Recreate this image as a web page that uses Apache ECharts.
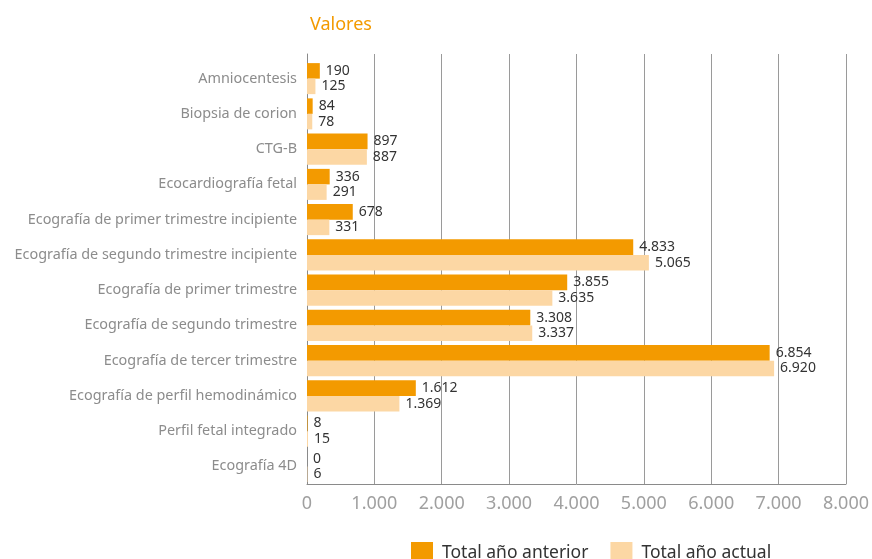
<!DOCTYPE html>
<html>
<head>
<meta charset="utf-8">
<script src="https://cdn.jsdelivr.net/npm/echarts@6/dist/echarts.min.js"></script>
<style>
  html, body { margin: 0; padding: 0; background: #fff; }
  #chart { width: 872px; height: 559px; }
</style>
</head>
<body>
<div id="chart"></div>
<script>
// Estudios de diagnóstico prenatal: totales por prueba
const categories = [
  'Amniocentesis',
  'Biopsia de corion',
  'CTG-B',
  'Ecocardiografía fetal',
  'Ecografía de primer trimestre incipiente',
  'Ecografía de segundo trimestre incipiente',
  'Ecografía de primer trimestre',
  'Ecografía de segundo trimestre',
  'Ecografía de tercer trimestre',
  'Ecografía de perfil hemodinámico',
  'Perfil fetal integrado',
  'Ecografía 4D'
];
const totalAnoAnterior = [190, 84, 897, 336, 678, 4833, 3855, 3308, 6854, 1612, 8, 0];
const totalAnoActual   = [125, 78, 887, 291, 331, 5065, 3635, 3337, 6920, 1369, 15, 6];
const seriesNames = ['Total año anterior', 'Total año actual'];
const xTicks = [0, 1000, 2000, 3000, 4000, 5000, 6000, 7000, 8000];

const ORANGE = '#F39A00';
const LIGHT = '#FCD7A4';
const FONT = '"Noto Sans", "Open Sans", sans-serif';

const fmt = v => String(v).replace(/\B(?=(\d{3})+(?!\d))/g, '.');

const chart = echarts.init(document.getElementById('chart'), null, { renderer: 'canvas' });

const valueLabel = {
  show: true,
  position: 'right',
  distance: 6,
  color: '#333',
  fontFamily: FONT,
  fontSize: 14,
  formatter: p => fmt(p.value)
};

chart.setOption({
  animation: false,
  textStyle: { fontFamily: FONT },
  title: {
    text: 'Valores',
    left: 305,
    top: 11,
    textStyle: { color: ORANGE, fontSize: 18, fontWeight: 'normal', fontFamily: FONT }
  },
  legend: {
    top: 537,
    left: 406,
    itemWidth: 22,
    itemHeight: 22,
    itemGap: 22,
    icon: 'rect',
    textStyle: { color: '#333', fontSize: 17.5, fontFamily: FONT, padding: [0, 0, 0, 4] },
    data: seriesNames
  },
  grid: [
    // bars
    { left: 307, right: 25, top: 61, bottom: 75, containLabel: false },
    // frame with vertical grid lines
    { left: 307, right: 25, top: 54, bottom: 75, containLabel: false }
  ],
  xAxis: [
    {
      gridIndex: 0,
      type: 'value',
      min: xTicks[0],
      max: xTicks[xTicks.length - 1],
      interval: 1000,
      axisLine: { show: false },
      axisTick: { show: false },
      splitLine: { show: false },
      axisLabel: { show: false }
    },
    {
      gridIndex: 1,
      type: 'value',
      min: xTicks[0],
      max: xTicks[xTicks.length - 1],
      interval: 1000,
      axisLine: { show: true, lineStyle: { color: '#8a8a8a', width: 1 } },
      axisTick: { show: false },
      splitLine: { show: true, lineStyle: { color: '#9a9a9a', width: 1 } },
      axisLabel: {
        color: '#a0a0a0',
        fontSize: 18,
        fontFamily: FONT,
        margin: 11,
        formatter: v => fmt(v)
      }
    }
  ],
  yAxis: [
    {
      gridIndex: 0,
      type: 'category',
      data: categories,
      inverse: true,
      axisLine: { show: false },
      axisTick: { show: false },
      axisLabel: { color: '#8c8c8c', fontSize: 14.4, fontFamily: FONT, margin: 10 }
    },
    {
      gridIndex: 1,
      type: 'category',
      data: [''],
      axisLine: { show: true, lineStyle: { color: '#8a8a8a', width: 1 } },
      axisTick: { show: false },
      axisLabel: { show: false }
    }
  ],
  series: [
    {
      name: seriesNames[0],
      type: 'bar',
      xAxisIndex: 0,
      yAxisIndex: 0,
      data: totalAnoAnterior,
      barGap: '0%',
      barCategoryGap: '12%',
      itemStyle: { color: ORANGE },
      label: valueLabel,
      z: 3
    },
    {
      name: seriesNames[1],
      type: 'bar',
      xAxisIndex: 0,
      yAxisIndex: 0,
      data: totalAnoActual,
      barGap: '0%',
      barCategoryGap: '12%',
      itemStyle: { color: LIGHT },
      label: valueLabel,
      z: 3
    }
  ]
});
</script>
</body>
</html>
